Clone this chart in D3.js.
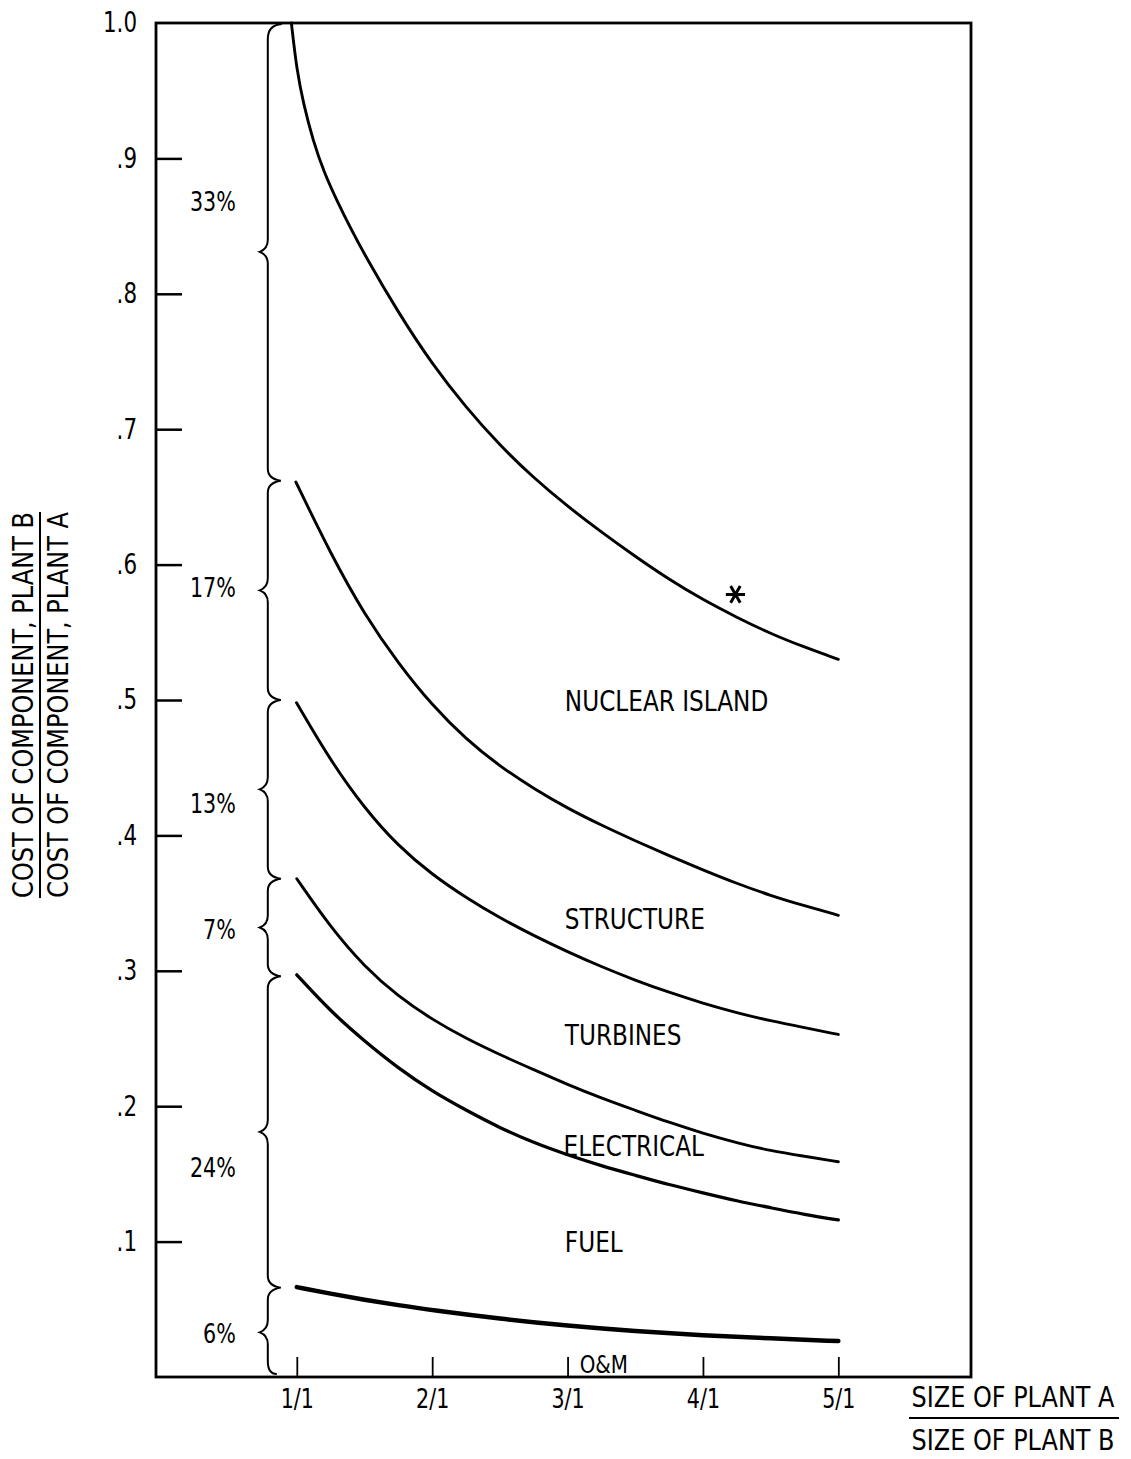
<!DOCTYPE html>
<html>
<head>
<meta charset="utf-8">
<script src="https://cdn.jsdelivr.net/npm/d3@7"></script>
<style>
  body { margin: 0; background: #fff; }
  svg text { font-family: "Liberation Sans Narrow", "DejaVu Sans Condensed", "Liberation Sans", sans-serif; fill: #000; }
</style>
</head>
<body>
<svg id="chart"></svg>
<script>
// Curve data: [size ratio A/B, cost ratio B/A]
const nuclearIsland = [[0.96, 1.0], [1.0, 0.965], [1.05, 0.940], [1.12, 0.913], [1.2, 0.890], [1.3, 0.868],
  [1.4, 0.848], [1.5, 0.829], [1.75, 0.786], [2.0, 0.748], [2.25, 0.716], [2.5, 0.688], [2.75, 0.664],
  [3.0, 0.643], [3.25, 0.624], [3.5, 0.606], [3.75, 0.589], [4.0, 0.574], [4.25, 0.561], [4.5, 0.549],
  [4.75, 0.539], [5.0, 0.530]];
const structure = [[0.993, 0.661], [1.25, 0.608], [1.5, 0.563], [1.75, 0.527], [2.0, 0.496], [2.25, 0.471],
  [2.5, 0.451], [2.75, 0.4345], [3.0, 0.420], [3.25, 0.4075], [3.5, 0.396], [3.75, 0.385], [4.0, 0.3745],
  [4.25, 0.3645], [4.5, 0.3555], [4.75, 0.348], [5.0, 0.341]];
const turbines = [[0.998, 0.498], [1.25, 0.455], [1.5, 0.420], [1.75, 0.392], [2.0, 0.371], [2.25, 0.354],
  [2.5, 0.339], [2.75, 0.326], [3.0, 0.314], [3.25, 0.303], [3.5, 0.293], [3.75, 0.284], [4.0, 0.276],
  [4.25, 0.269], [4.5, 0.263], [4.75, 0.258], [5.0, 0.253]];
const electrical = [[1.0, 0.368], [1.25, 0.332], [1.5, 0.303], [1.75, 0.281], [2.0, 0.264], [2.25, 0.250],
  [2.5, 0.238], [2.75, 0.227], [3.0, 0.216], [3.25, 0.206], [3.5, 0.197], [3.75, 0.188], [4.0, 0.180],
  [4.25, 0.173], [4.5, 0.167], [4.75, 0.163], [5.0, 0.159]];
const fuel = [[1.0, 0.297], [1.25, 0.270], [1.5, 0.248], [1.75, 0.228], [2.0, 0.211], [2.25, 0.197],
  [2.5, 0.184], [2.75, 0.173], [3.0, 0.164], [3.25, 0.156], [3.5, 0.149], [3.75, 0.142], [4.0, 0.136],
  [4.25, 0.130], [4.5, 0.125], [4.75, 0.120], [5.0, 0.116]];
const om = [[1.0, 0.0664], [1.25, 0.0615], [1.5, 0.0570], [1.75, 0.0530], [2.0, 0.0494], [2.5, 0.0430],
  [3.0, 0.0378], [3.5, 0.0338], [4.0, 0.0308], [4.5, 0.0285], [5.0, 0.0265]];

const curves = [nuclearIsland, structure, turbines, electrical, fuel, om];

// Region labels and their anchor points
const regionLabels = ["NUCLEAR ISLAND", "STRUCTURE", "TURBINES", "ELECTRICAL", "FUEL", "O&M"];
const regionX = [2.98, 2.98, 2.98, 2.97, 2.98, 3.09];
const regionY = [0.4996, 0.338, 0.2524, 0.171, 0.0996, 0.009];

// Brace segment bounds and shares
const braceBounds = [1.0, 0.662, 0.500, 0.368, 0.296, 0.066, 0.0];
const shareLabels = ["33%", "17%", "13%", "7%", "24%", "6%"];
const shareY = [0.868, 0.583, 0.424, 0.331, 0.155, 0.032];

const xTicks = [1, 2, 3, 4, 5];
const xTickLabels = ["1/1", "2/1", "3/1", "4/1", "5/1"];
const yTicks = [0.1, 0.2, 0.3, 0.4, 0.5, 0.6, 0.7, 0.8, 0.9, 1.0];
const yTickLabels = [".1", ".2", ".3", ".4", ".5", ".6", ".7", ".8", ".9", "1.0"];

const marker = [4.24, 0.578];

const svgWidth = 1131;
const svgHeight = 1459;
const margin = { top: 23, right: 160, bottom: 82, left: 156 };
const width = svgWidth - margin.left - margin.right;
const height = svgHeight - margin.top - margin.bottom;

const root = d3.select("#chart")
    .attr("width", svgWidth)
    .attr("height", svgHeight);

const svg = root.append("g")
    .attr("transform", `translate(${margin.left},${margin.top})`);

const x = d3.scaleLinear().domain([-0.04, 5.98]).range([0, width]);
const y = d3.scaleLinear().domain([0, 1]).range([height, 0]);

// squeeze text to the narrow lettering of the original
function narrow(sel, k) {
    sel.each(function () {
        const w = this.getComputedTextLength();
        d3.select(this).attr("textLength", w * k).attr("lengthAdjust", "spacingAndGlyphs");
    });
}

// Axes (ticks point into the plot)
const yAxis = svg.append("g")
    .call(d3.axisLeft(y)
        .tickValues(yTicks)
        .tickSize(-26)
        .tickPadding(19)
        .tickFormat((d, i) => yTickLabels[i]));
yAxis.select(".domain").remove();
yAxis.selectAll(".tick line").attr("stroke", "#000").attr("stroke-width", 2.5)
    .filter(d => d === 1.0).remove();
yAxis.selectAll(".tick text").style("font-size", "28px").attr("fill", "#000").call(narrow, 0.85);

const xAxis = svg.append("g")
    .attr("transform", `translate(0,${height})`)
    .call(d3.axisBottom(x)
        .tickValues(xTicks)
        .tickSize(-20)
        .tickPadding(12)
        .tickFormat((d, i) => xTickLabels[i]));
xAxis.select(".domain").remove();
xAxis.selectAll(".tick line").attr("stroke", "#000").attr("stroke-width", 1.8);
xAxis.selectAll(".tick text").style("font-size", "27px").attr("fill", "#000").call(narrow, 0.85);

// Frame
svg.append("rect")
    .attr("x", 0).attr("y", 0)
    .attr("width", width).attr("height", height)
    .attr("fill", "none")
    .attr("stroke", "#000")
    .attr("stroke-width", 2.8);

// Curves
const line = d3.line()
    .x(d => x(d[0]))
    .y(d => y(d[1]))
    .curve(d3.curveBasis);

svg.selectAll(".curve")
    .data(curves)
    .enter()
    .append("path")
    .attr("class", "curve")
    .attr("d", line)
    .attr("fill", "none")
    .attr("stroke", "#000")
    .attr("stroke-linecap", "round")
    .attr("stroke-width", (d, i) => i === 5 ? 4.5 : (i === 4 ? 3.3 : 2.9));

// Asterisk on the nuclear island curve
svg.append("path")
    .attr("transform", `translate(${x(marker[0])},${y(marker[1])}) rotate(90)`)
    .attr("d", d3.symbol().type(d3.symbolAsterisk).size(260)())
    .attr("fill", "none")
    .attr("stroke", "#000")
    .attr("stroke-width", 3);

// Brace along the left side
const bx = x(1) - 29;
const by = braceBounds.map(v => y(v));
const p = d3.path();
p.moveTo(bx + 14, by[0] + 1);
p.quadraticCurveTo(bx, by[0] + 2, bx, by[0] + 16);
for (let i = 0; i < by.length - 1; i++) {
    const y0 = by[i], y1 = by[i + 1], mid = (y0 + y1) / 2;
    p.lineTo(bx, mid - 12);
    p.quadraticCurveTo(bx, mid - 3, bx - 8, mid);
    p.quadraticCurveTo(bx, mid + 3, bx, mid + 12);
    if (i === by.length - 2) {
        p.lineTo(bx, y1 - 16);
        p.quadraticCurveTo(bx, y1 - 3, bx + 9, y1 - 3);
    } else {
        p.lineTo(bx, y1 - 12);
        p.quadraticCurveTo(bx, y1 - 2, bx + 13, y1);
        p.quadraticCurveTo(bx, y1 + 2, bx, y1 + 12);
    }
}
svg.append("path")
    .attr("d", p.toString())
    .attr("fill", "none")
    .attr("stroke", "#000")
    .attr("stroke-width", 2);

// Share percentages
svg.selectAll(".share")
    .data(shareLabels)
    .enter()
    .append("text")
    .attr("class", "share")
    .attr("x", bx - 32)
    .attr("y", (d, i) => y(shareY[i]))
    .attr("dy", "0.36em")
    .style("text-anchor", "end")
    .style("font-size", "27px")
    .text(d => d)
    .call(narrow, 0.85);

// Region labels
svg.selectAll(".region")
    .data(regionLabels)
    .enter()
    .append("text")
    .attr("class", "region")
    .attr("x", (d, i) => x(regionX[i]))
    .attr("y", (d, i) => y(regionY[i]))
    .attr("dy", "0.36em")
    .style("font-size", (d, i) => i === 5 ? "24px" : "28px")
    .text(d => d)
    .call(narrow, 0.92);

// X-axis label (fraction)
const xl = root.append("g").attr("transform", "translate(1013,0)");
xl.append("text").attr("y", 1397).attr("dy", "0.36em")
    .style("text-anchor", "middle").style("font-size", "28px").text("SIZE OF PLANT A")
    .call(narrow, 0.95);
xl.append("line").attr("x1", -104).attr("x2", 106).attr("y1", 1418).attr("y2", 1418)
    .attr("stroke", "#000").attr("stroke-width", 2);
xl.append("text").attr("y", 1440).attr("dy", "0.36em")
    .style("text-anchor", "middle").style("font-size", "28px").text("SIZE OF PLANT B")
    .call(narrow, 0.95);

// Y-axis label (fraction)
const yl = root.append("g").attr("transform", "translate(0,705) rotate(-90)");
yl.append("text").attr("x", 0).attr("y", 23).attr("dy", "0.36em")
    .style("text-anchor", "middle").style("font-size", "29px").text("COST OF COMPONENT,  PLANT B")
    .call(narrow, 0.92);
yl.append("line").attr("x1", -193).attr("x2", 193).attr("y1", 40).attr("y2", 40)
    .attr("stroke", "#000").attr("stroke-width", 2);
yl.append("text").attr("x", 0).attr("y", 58).attr("dy", "0.36em")
    .style("text-anchor", "middle").style("font-size", "29px").text("COST OF COMPONENT,  PLANT A")
    .call(narrow, 0.92);
</script>
</body>
</html>
